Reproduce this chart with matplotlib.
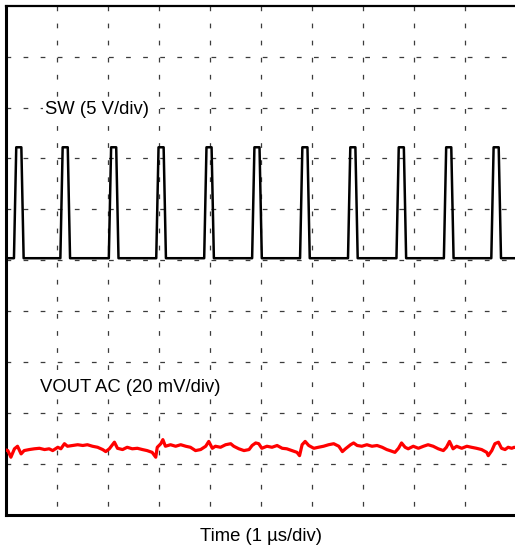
import numpy as np
import matplotlib.pyplot as plt

plt.rcParams['font.family'] = ['Liberation Sans', 'DejaVu Sans']
plt.rcParams['lines.scale_dashes'] = False

# scope settings
n_div = 10
sw_scale = 5.0        # V/div
vout_scale = 20.0     # mV/div
sw_offset = 5.04      # div, ground level of SW channel
vout_offset = 1.30    # div, zero of VOUT AC channel

# SW node: rising edge times (us), low / high levels (V)
sw_rise = [0.15, 1.06, 2.01, 2.94, 3.88, 4.82, 5.76, 6.70, 7.65, 8.58, 9.51]
sw_low = 0.0
sw_high = 10.9
t_edge = 0.045   # rise / fall time, us
t_on = 0.10      # flat top, us

# VOUT AC ripple, time (us) and mV
vout_t = [0.00, 0.03, 0.09, 0.16, 0.22, 0.29, 0.35, 0.45, 0.55, 0.65, 0.75, 0.84, 0.91,
          1.01, 1.07, 1.14, 1.20, 1.30, 1.40, 1.50, 1.59, 1.69, 1.79, 1.89, 1.95,
          2.02, 2.12, 2.18, 2.28, 2.37, 2.47, 2.57, 2.67, 2.76, 2.86, 2.93, 2.96,
          3.03, 3.07, 3.12, 3.22, 3.32, 3.42, 3.52, 3.61, 3.71, 3.81, 3.91, 3.97,
          4.04, 4.10, 4.20, 4.30, 4.40, 4.46, 4.56, 4.66, 4.76, 4.82, 4.89, 4.95,
          5.01, 5.11, 5.21, 5.31, 5.41, 5.50, 5.60, 5.70, 5.75, 5.80, 5.86, 5.93,
          6.03, 6.12, 6.22, 6.32, 6.42, 6.52, 6.59, 6.65, 6.75, 6.81, 6.88, 6.97,
          7.07, 7.17, 7.27, 7.37, 7.46, 7.52, 7.62, 7.69, 7.75, 7.82, 7.88, 7.98,
          8.08, 8.18, 8.27, 8.37, 8.47, 8.57, 8.63, 8.69, 8.76, 8.83, 8.93, 9.03,
          9.12, 9.22, 9.32, 9.42, 9.45, 9.52, 9.58, 9.65, 9.71, 9.78, 9.84, 9.91,
          9.96, 10.00]
vout_mv = [-0.6, -0.8, -3.4, -0.1, 0.9, -2.1, -0.8, -0.4, -0.1, 0.1, -0.4, -0.1, -0.8,
           0.5, -0.1, 1.9, 0.9, 1.2, 1.5, 1.2, 1.5, 0.9, 0.5, -0.4, -1.2,
           -0.1, 2.5, 0.1, -0.4, 0.5, -0.1, 0.1, -0.4, -0.8, -1.5, -3.4, 0.5,
           1.9, 3.5, 0.9, 1.5, 0.9, 1.5, 0.9, 0.5, -0.8, -0.4, 0.9, 2.8,
           0.1, 0.9, 0.5, 1.5, 1.9, 0.9, -0.1, -0.8, -0.4, 1.2, 2.2, 1.9,
           0.1, 0.9, 0.5, 1.2, 0.1, -0.1, -0.8, -1.5, -2.8, 1.5, 2.8, 1.2,
           0.1, 0.5, 0.9, 1.5, 1.9, 0.9, -1.2, -0.1, 1.5, 2.2, 1.2, 0.9,
           1.5, 0.9, 1.2, 0.5, -0.4, -0.8, -1.5, 0.1, 2.2, 0.5, -0.1, 0.9,
           0.1, 0.9, 1.5, 0.9, -0.1, -0.8, 0.5, 2.8, -0.1, 0.9, 0.1, 0.9,
           0.5, 0.1, -0.4, -1.5, -2.8, -0.8, 1.9, 2.5, 0.1, -0.4, 0.5, 0.1,
           0.5, 0.3]

# build the SW square wave from the edge times
sw_t = [0.0]
sw_v = [sw_low]
for t0 in sw_rise:
    sw_t += [t0, t0 + t_edge, t0 + t_edge + t_on, t0 + 2 * t_edge + t_on]
    sw_v += [sw_low, sw_high, sw_high, sw_low]
sw_t.append(n_div)
sw_v.append(sw_low)

fig = plt.figure(figsize=(5.15, 5.48), dpi=100)
W, H = 515, 548
left, right, top, bottom = 6.3, 516.3, 5.8, 514.7
ax = fig.add_axes([left / W, 1 - bottom / H, (right - left) / W, (bottom - top) / H])
ax.set_xlim(0, n_div)
ax.set_ylim(0, n_div)
ax.set_xticks([])
ax.set_yticks([])

# dashed graticule
dash = (0, (3.4, 8.9))
ax.vlines(np.arange(1, n_div), n_div, 0, colors='#3c3c3c', linewidth=0.9, linestyles=[dash], zorder=1)
ax.hlines(np.arange(1, n_div), 0, n_div, colors='#3c3c3c', linewidth=0.9, linestyles=[dash], zorder=1)

ax.plot(sw_t, sw_offset + np.array(sw_v) / sw_scale, color='black', linewidth=1.8,
        solid_joinstyle='round', zorder=3)
ax.plot(vout_t, vout_offset + np.array(vout_mv) / vout_scale, color='#ff0000', linewidth=2.3,
        zorder=3)

label_box = dict(facecolor='white', edgecolor='none', pad=1.5)
ax.text(0.76, 7.87, 'SW (5 V/div)', fontsize=13.3, ha='left', va='baseline', bbox=label_box, zorder=2)
ax.text(0.66, 2.41, 'VOUT AC (20 mV/div)', fontsize=13.3, ha='left', va='baseline', bbox=label_box, zorder=2)
fig.text(261.5 / W, 1 - 541 / H, 'Time (1 µs/div)', fontsize=13.3, ha='center', va='baseline')

for s in ['left', 'bottom']:
    ax.spines[s].set_linewidth(2.2)
ax.spines['top'].set_linewidth(1.6)
ax.spines['right'].set_visible(False)

fig.savefig('out.png', dpi=100)
